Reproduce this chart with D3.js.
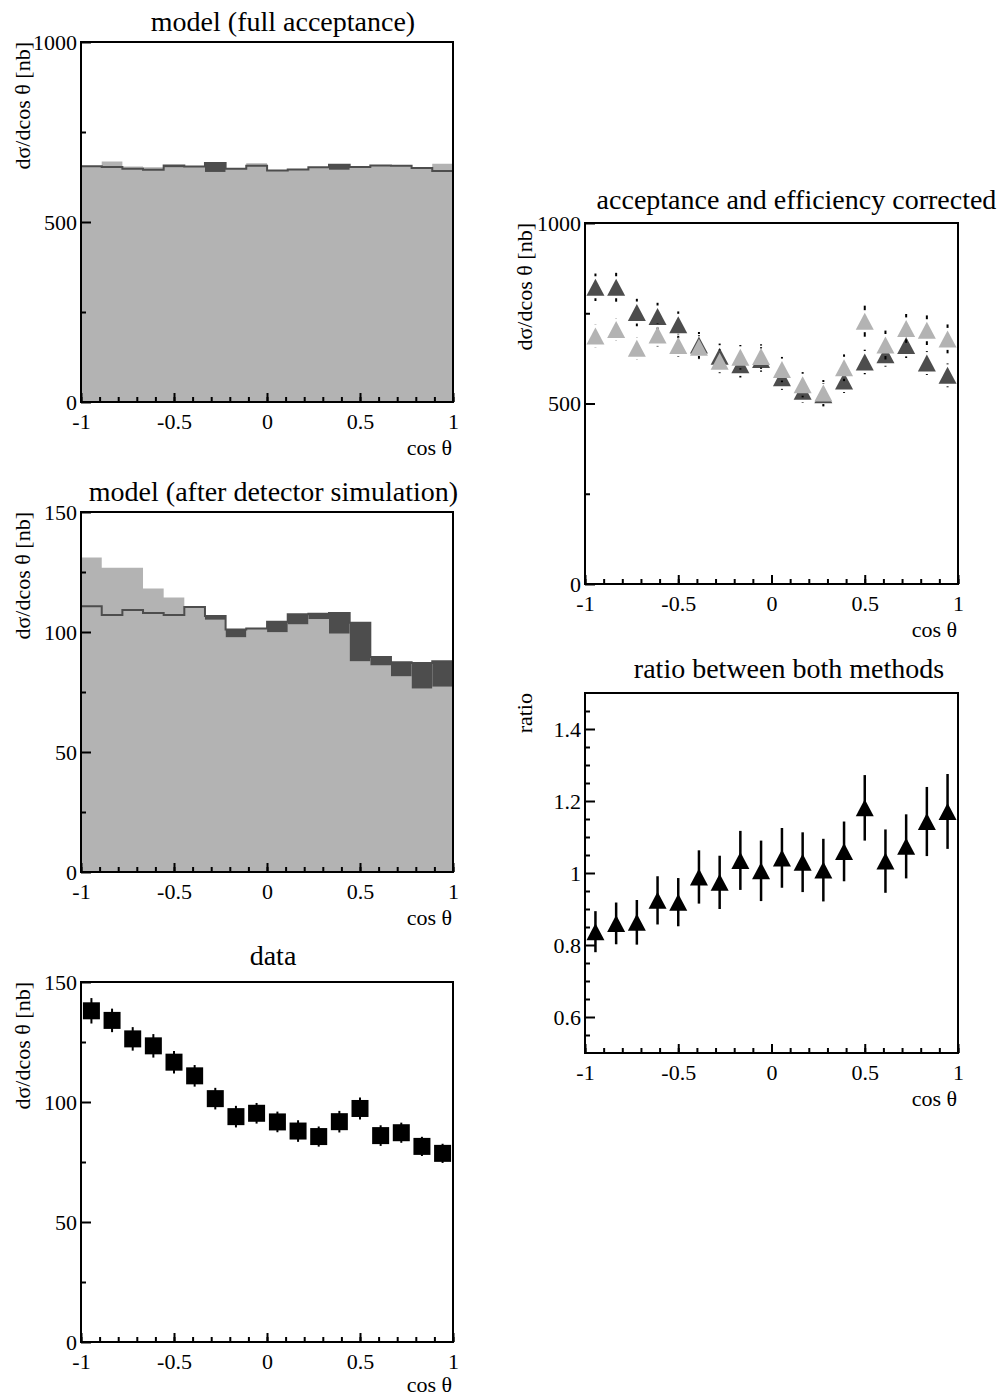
<!DOCTYPE html>
<html>
<head>
<meta charset="utf-8">
<script src="https://cdn.jsdelivr.net/npm/d3@7"></script>
<style>
  body { margin: 0; background: #fff; }
  text { font-family: "Liberation Serif", "DejaVu Serif", serif; }
</style>
</head>
<body>
<div id="chart"></div>
<script>
// bin centres in cos theta (18 bins from -1 to 1)
var cosTheta = [-0.944,-0.833,-0.722,-0.611,-0.5,-0.389,-0.278,-0.167,-0.056,
                0.056,0.167,0.278,0.389,0.5,0.611,0.722,0.833,0.944];
var xTicks = [-1, -0.5, 0, 0.5, 1];

// model (full acceptance): light filled histo and dark outlined histo
var fullLight = [655,668,654,652,652,655,639,648,663,643,646,652,645,654,657,656,652,662];
var fullDark  = [655,653,648,645,657,654,664,648,656,643,646,652,659,653,657,656,650,642];

// model (after detector simulation)
var detLight = [131.0,126.8,126.8,118.1,114.4,110.2,105.1,97.8,101.3,99.9,103.2,105.4,99.3,87.8,86.1,81.5,76.4,77.2];
var detDark  = [110.7,107.1,109.2,107.9,107.1,110.4,106.7,101.0,101.5,104.3,107.4,107.6,107.9,103.9,89.6,87.4,87.1,87.8];

// data
var dataVal = [138.0,134.0,126.3,123.4,116.6,110.9,101.4,93.9,95.3,91.7,87.9,85.6,91.8,97.3,86.0,87.2,81.5,78.6];
var dataErr = [5.3,4.9,4.9,4.9,4.7,4.5,4.5,4.5,4.3,4.3,4.5,4.2,4.5,4.6,4.3,4.2,4.0,4.0];

// acceptance and efficiency corrected, two methods
var corrDark     = [822,822,752,741,718,662,631,607,622,571,534,524,562,615,635,661,612,578];
var corrDarkErr  = [38,40,38,38,37,36,35,35,34,33,32,32,33,34,33,35,33,33];
var corrLight    = [687,705,653,690,661,656,617,628,630,594,552,529,599,728,662,708,703,679];
var corrLightErr = [31,31,31,32,32,33,33,34,34,35,35,36,37,43,40,40,41,40];

// ratio between both methods
var ratioVal = [0.837,0.860,0.863,0.924,0.919,0.989,0.974,1.035,1.006,1.042,1.030,1.008,1.060,1.181,1.033,1.074,1.143,1.171];
var ratioErr = [0.057,0.058,0.062,0.067,0.067,0.074,0.074,0.082,0.084,0.083,0.083,0.087,0.083,0.091,0.088,0.089,0.096,0.104];

var yLabel = "d\u03c3/dcos \u03b8 [nb]";
var xLabel = "cos \u03b8";

var LIGHT = "#b3b3b3", DARK = "#4d4d4d";
var binHalf = 1 / 18;

var svg = d3.select("#chart").append("svg")
    .attr("width", 1006)
    .attr("height", 1396);

function makePanel(p) {
  var g = svg.append("g").attr("transform", "translate(" + p.left + "," + p.top + ")");
  var w = p.width, h = p.height;
  var x = d3.scaleLinear().domain([-1, 1]).range([0, w]);
  var y = d3.scaleLinear().domain(p.yDomain).range([h, 0]);

  // title
  svg.append("text")
    .attr("x", p.titleX).attr("y", p.titleY)
    .attr("text-anchor", "middle")
    .style("font-size", "28px")
    .text(p.title);

  var plot = g.append("g");
  var axes = g.append("g");

  // x axis: minor then major ticks, pointing inward
  axes.append("g")
    .attr("transform", "translate(0," + h + ")")
    .call(d3.axisBottom(x).ticks(20).tickSizeInner(-5).tickSizeOuter(0).tickFormat(""))
    .call(function(s) { s.select(".domain").remove(); });
  axes.append("g")
    .attr("transform", "translate(0," + h + ")")
    .call(d3.axisBottom(x).tickValues(xTicks).tickSizeInner(-9).tickSizeOuter(0)
      .tickPadding(11).tickFormat(function(d) { return String(d); }))
    .call(function(s) { s.select(".domain").remove(); });

  // y axis
  axes.append("g")
    .call(d3.axisLeft(y).tickValues(p.yMinor).tickSizeInner(-5).tickSizeOuter(0).tickFormat(""))
    .call(function(s) { s.select(".domain").remove(); });
  axes.append("g")
    .call(d3.axisLeft(y).tickValues(p.yMajor).tickSizeInner(-10).tickSizeOuter(0)
      .tickPadding(4).tickFormat(function(d) { return String(d); }))
    .call(function(s) { s.select(".domain").remove(); });

  axes.selectAll(".tick line").attr("stroke", "#000").attr("stroke-width", 2);
  axes.selectAll(".tick text").attr("fill", "#000")
    .style("font-size", "22px").style("font-family", "Liberation Serif");

  // frame
  axes.append("rect")
    .attr("width", w).attr("height", h)
    .attr("fill", "none").attr("stroke", "#000").attr("stroke-width", 2);

  // axis titles
  g.append("text")
    .attr("x", w - 1).attr("y", h + (p.xLabelDy || 53))
    .attr("text-anchor", "end")
    .style("font-size", "22px")
    .text(xLabel);
  g.append("text")
    .attr("transform", "translate(" + (p.yLabelX - p.left) + ",0) rotate(-90)")
    .attr("text-anchor", "end")
    .style("font-size", "22px")
    .text(p.yLabel);

  return {plot: plot, x: x, y: y};
}

function drawHistos(P, light, dark) {
  var x = P.x, y = P.y;
  var bins = cosTheta.map(function(c, i) {
    return {lo: c - binHalf, hi: c + binHalf, a: light[i], b: dark[i]};
  });
  var last = bins[bins.length - 1];

  // light filled histogram as one stepped area
  var ptsA = bins.map(function(d) { return [d.lo, d.a]; });
  ptsA.push([1, last.a]);
  P.plot.append("path")
    .attr("d", d3.area().curve(d3.curveStepAfter)
      .x(function(d) { return x(d[0]); })
      .y0(y(0))
      .y1(function(d) { return y(d[1]); })(ptsA))
    .attr("fill", LIGHT);

  // dark band where the second histogram lies above
  P.plot.selectAll("rect.dark").data(bins.filter(function(d) { return d.b > d.a; })).enter().append("rect")
    .attr("class", "dark")
    .attr("x", function(d) { return x(d.lo); })
    .attr("width", function(d) { return x(d.hi) - x(d.lo); })
    .attr("y", function(d) { return y(d.b); })
    .attr("height", function(d) { return y(d.a) - y(d.b); })
    .attr("fill", DARK);

  var ptsB = bins.map(function(d) { return [d.lo, d.b]; });
  ptsB.push([1, last.b]);
  P.plot.append("path")
    .attr("d", d3.line().curve(d3.curveStepAfter)
      .x(function(d) { return x(d[0]); })
      .y(function(d) { return y(d[1]); })(ptsB))
    .attr("fill", "none").attr("stroke", DARK).attr("stroke-width", 2);
}

function trianglePath(w, h) {
  return "M0," + (-h / 2) + "L" + (w / 2) + "," + (h / 2) + "L" + (-w / 2) + "," + (h / 2) + "Z";
}

function drawPoints(P, vals, errs, color, shape, barW, gap) {
  var x = P.x, y = P.y;
  var pts = cosTheta.map(function(c, i) { return {c: c, v: vals[i], e: errs[i]}; });
  var g = P.plot.append("g");
  var segs = [];
  pts.forEach(function(d) {
    var yc = y(d.v), yt = y(d.v + d.e), yb = y(d.v - d.e);
    if (yc - gap > yt) segs.push({c: d.c, a: yt, b: yc - gap});
    if (yc + gap < yb) segs.push({c: d.c, a: yc + gap, b: yb});
  });
  g.selectAll("line").data(segs).enter().append("line")
    .attr("x1", function(d) { return x(d.c); })
    .attr("x2", function(d) { return x(d.c); })
    .attr("y1", function(d) { return d.a; })
    .attr("y2", function(d) { return d.b; })
    .attr("stroke", "#000").attr("stroke-width", barW);
  if (shape === "square") {
    g.selectAll("rect").data(pts).enter().append("rect")
      .attr("x", function(d) { return x(d.c) - 8.5; })
      .attr("y", function(d) { return y(d.v) - 8.5; })
      .attr("width", 17).attr("height", 17)
      .attr("fill", color);
  } else {
    g.selectAll("path").data(pts).enter().append("path")
      .attr("transform", function(d) { return "translate(" + x(d.c) + "," + y(d.v) + ")"; })
      .attr("d", trianglePath(18, 17))
      .attr("fill", color);
  }
}

// left column
var p1 = makePanel({left: 81, top: 42, width: 372, height: 360, yDomain: [0, 1000],
  yMajor: [0, 500, 1000], yMinor: [250, 750], title: "model (full acceptance)",
  titleX: 283, titleY: 31, yLabel: yLabel, yLabelX: 30});
drawHistos(p1, fullLight, fullDark);

var p2 = makePanel({left: 81, top: 512, width: 372, height: 360, yDomain: [0, 150],
  yMajor: [0, 50, 100, 150], yMinor: [25, 75, 125], title: "model (after detector simulation)",
  titleX: 273.5, titleY: 501, yLabel: yLabel, yLabelX: 30});
drawHistos(p2, detLight, detDark);

var p3 = makePanel({left: 81, top: 982, width: 372, height: 360, yDomain: [0, 150],
  yMajor: [0, 50, 100, 150], yMinor: [25, 75, 125], title: "data",
  titleX: 273, titleY: 965, yLabel: yLabel, yLabelX: 30, xLabelDy: 50});
drawPoints(p3, dataVal, dataErr, "#000", "square", 2, 0);

// right column
var p4 = makePanel({left: 585, top: 223, width: 373, height: 361, yDomain: [0, 1000],
  yMajor: [0, 500, 1000], yMinor: [250, 750], title: "acceptance and efficiency corrected",
  titleX: 796.5, titleY: 209, yLabel: yLabel, yLabelX: 532});
drawPoints(p4, corrDark, corrDarkErr, DARK, "triangle", 2, 11);
drawPoints(p4, corrLight, corrLightErr, LIGHT, "triangle", 2, 11);

var p5 = makePanel({left: 585, top: 693, width: 373, height: 360, yDomain: [0.5, 1.5],
  yMajor: [0.6, 0.8, 1, 1.2, 1.4],
  yMinor: [0.55,0.65,0.7,0.75,0.85,0.9,0.95,1.05,1.1,1.15,1.25,1.3,1.35,1.45],
  title: "ratio between both methods",
  titleX: 789, titleY: 678, yLabel: "ratio", yLabelX: 532});
drawPoints(p5, ratioVal, ratioErr, "#000", "triangle", 2.5, 0);
</script>
</body>
</html>
